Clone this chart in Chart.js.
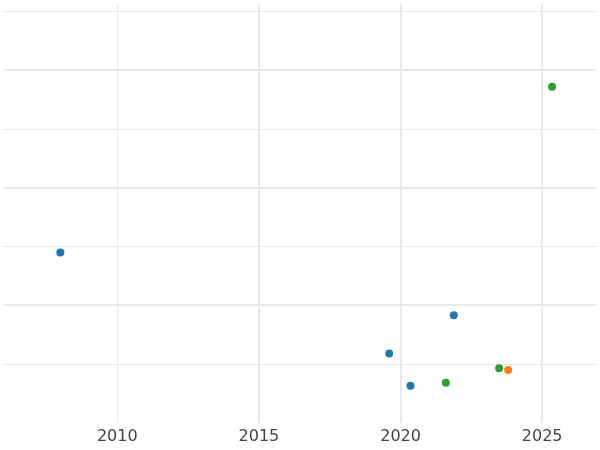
<html><head><script src="https://cdn.jsdelivr.net/npm/chart.js"></script></head><body style="margin:0"><div style="width:600px;height:450px"><canvas id="c"></canvas></div><script>
const blueX=[2007.99,2019.6,2020.35,2021.88];
const blueY=[2.9,1.18,0.63,1.83];
const greenX=[2021.6,2023.48,2025.35];
const greenY=[0.68,0.93,5.72];
const orangeX=[2023.8];
const orangeY=[0.9];
const xTicks=[2010,2015,2020,2025];
const mk=(xs,ys)=>xs.map((x,i)=>({x,y:ys[i]}));
new Chart(document.getElementById('c'),{type:'scatter',data:{datasets:[
{data:mk(blueX,blueY),backgroundColor:'#1f77b4',borderWidth:0,pointRadius:4},
{data:mk(greenX,greenY),backgroundColor:'#2ca02c',borderWidth:0,pointRadius:4},
{data:mk(orangeX,orangeY),backgroundColor:'#ff7f0e',borderWidth:0,pointRadius:4}]},
options:{responsive:true,maintainAspectRatio:false,animation:false,layout:{padding:{left:-4,right:-4,top:-4,bottom:0}},
plugins:{legend:{display:false},tooltip:{enabled:false}},
scales:{x:{type:'linear',min:2006,max:2026.9,afterBuildTicks:a=>{a.ticks=xTicks.map(v=>({value:v}))},
ticks:{color:'#444',font:{family:'DejaVu Sans',size:16},padding:4,callback:v=>String(v)},
grid:{color:'#e8e8e8',lineWidth:c=>c.tick&&c.tick.value===2010?1:2,drawTicks:false},border:{display:false}},
y:{min:0,max:7.13,ticks:{display:false,stepSize:1},afterBuildTicks:a=>{a.ticks=[1,2,3,4,5,6,7].map(v=>({value:v}))},
grid:{color:'#e8e8e8',lineWidth:c=>c.tick&&c.tick.value%2===1?1:2,drawTicks:false},border:{display:false}}}}});
</script></body></html>
